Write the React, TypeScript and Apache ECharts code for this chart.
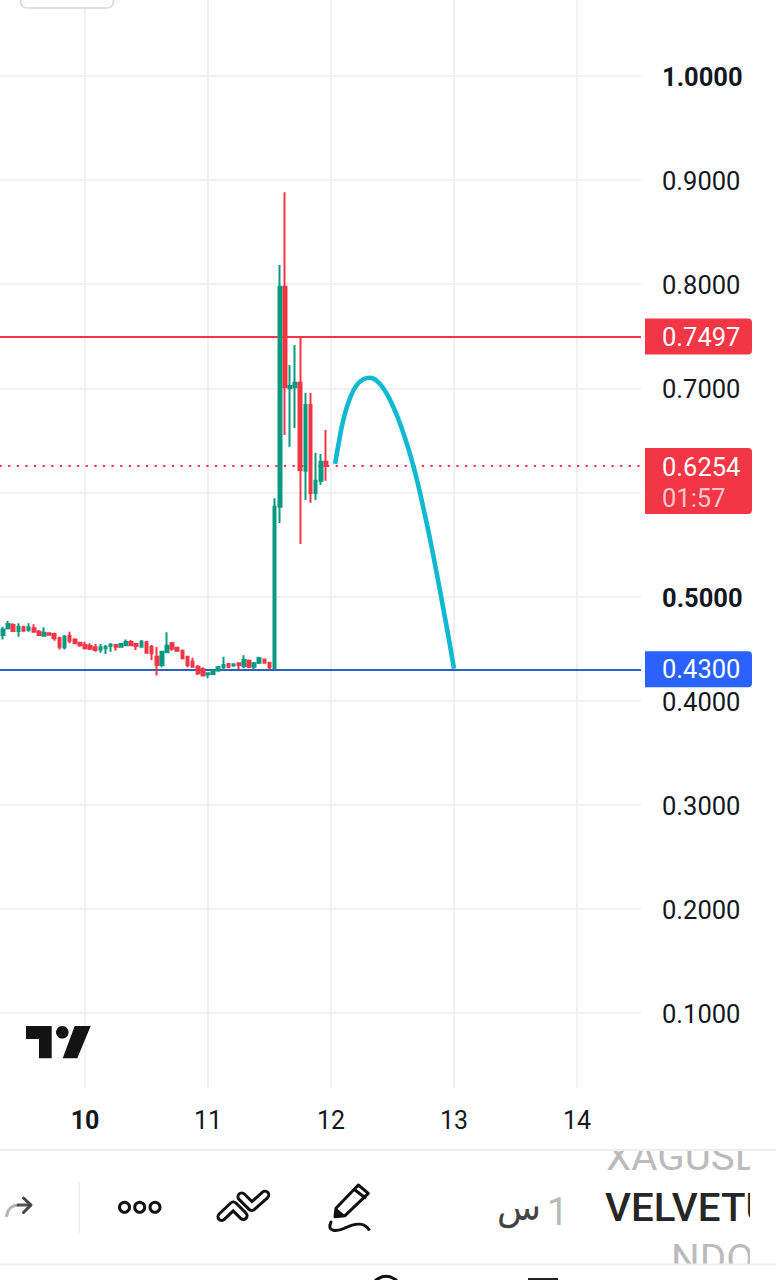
import React, { useEffect, useRef } from "react";
import * as echarts from "echarts";

const FIRST_HOUR = 8;
const opens = [
  0.463, 0.4694, 0.4726, 0.4668, 0.4704, 0.4678, 0.4694, 0.4662, 0.4624, 0.4646, 0.464, 0.4598, 0.4512, 0.462, 0.4588, 0.4556,
  0.4534, 0.4524, 0.4512, 0.4492, 0.4502, 0.4524, 0.4534, 0.4518, 0.4531, 0.4563, 0.4544, 0.4518, 0.456, 0.4518, 0.4422, 0.4342,
  0.4464, 0.455, 0.4508, 0.448, 0.4422, 0.4374, 0.4326, 0.43, 0.4252, 0.4256, 0.4288, 0.432, 0.4352, 0.4336, 0.4358, 0.4332,
  0.4384, 0.4326, 0.4364, 0.4396, 0.4364, 0.4313, 0.5863, 0.7976, 0.7, 0.701, 0.7054, 0.6208, 0.684, 0.5994, 0.6112, 0.6295,
];
const closes = [
  0.4684, 0.4736, 0.4668, 0.471, 0.4672, 0.4704, 0.4662, 0.463, 0.4652, 0.4633, 0.4598, 0.4518, 0.4614, 0.4576, 0.455, 0.4531,
  0.4502, 0.4499, 0.4486, 0.4512, 0.4518, 0.454, 0.4518, 0.4544, 0.4563, 0.4531, 0.4524, 0.4566, 0.446, 0.4454, 0.4342, 0.447,
  0.4528, 0.4499, 0.448, 0.4406, 0.4342, 0.4326, 0.4262, 0.424, 0.4262, 0.4288, 0.432, 0.4342, 0.4326, 0.4348, 0.4342, 0.439,
  0.4326, 0.4358, 0.4406, 0.4364, 0.432, 0.5863, 0.7976, 0.701, 0.7022, 0.7054, 0.6215, 0.684, 0.5994, 0.6112, 0.6295, 0.6254,
];
const lows = [
  0.4588, 0.4684, 0.4662, 0.4614, 0.4662, 0.4662, 0.4652, 0.462, 0.462, 0.4627, 0.4576, 0.4492, 0.4492, 0.455, 0.4544, 0.4518,
  0.4492, 0.4486, 0.447, 0.446, 0.4448, 0.447, 0.448, 0.4512, 0.4524, 0.4524, 0.4486, 0.4512, 0.4454, 0.439, 0.424, 0.432,
  0.446, 0.448, 0.447, 0.4396, 0.432, 0.4316, 0.4246, 0.4236, 0.4214, 0.4246, 0.4278, 0.4294, 0.431, 0.4326, 0.43, 0.431,
  0.431, 0.43, 0.4352, 0.4358, 0.43, 0.43, 0.5706, 0.6551, 0.6439, 0.6619, 0.5504, 0.5927, 0.5901, 0.5927, 0.6071, 0.6112,
];
const highs = [
  0.471, 0.4764, 0.4742, 0.4742, 0.472, 0.4742, 0.4733, 0.4678, 0.4704, 0.4652, 0.4652, 0.4614, 0.463, 0.4662, 0.4598, 0.4566,
  0.4566, 0.455, 0.4544, 0.4544, 0.4534, 0.455, 0.4544, 0.455, 0.4588, 0.4582, 0.4556, 0.4582, 0.4576, 0.4534, 0.4518, 0.447,
  0.4656, 0.4563, 0.4518, 0.4492, 0.4428, 0.4412, 0.4342, 0.432, 0.4268, 0.4294, 0.4332, 0.4422, 0.4358, 0.4358, 0.4364, 0.4435,
  0.4396, 0.4371, 0.4422, 0.4403, 0.4374, 0.5943, 0.8184, 0.8883, 0.7224, 0.7416, 0.7496, 0.6955, 0.6955, 0.6381, 0.6369, 0.6599,
];

const curveDays = [
  12.033, 12.06, 12.1, 12.154, 12.209, 12.263, 12.317, 12.371, 12.425, 12.48, 12.534, 12.588, 12.642, 12.697, 12.75, 12.805,
  12.859, 12.913, 12.967, 13.0,
];
const curvePrices = [
  0.6273, 0.6455, 0.6695, 0.6904, 0.7032, 0.7086, 0.7102, 0.7073, 0.7, 0.6888, 0.6744, 0.6571, 0.6369, 0.6129, 0.5855, 0.5552,
  0.5226, 0.4885, 0.4534, 0.4308,
];

const resistance = "0.7497";
const lastPrice = "0.6254";
const countdown = "01:57";
const support = "0.4300";
const boldPrices = ["1.0000", "0.5000"];
const coveredPrices = ["0.6000"];
const boldDays = ["10"];

const GREEN = "#089981";
const RED = "#F23645";
const BLUE = "#2962FF";
const GRID = "#F1F1F3";
const FONT = "Roboto";
const DAY_PX = 123;
const PRICE_PX = 1041;

function tagLabel(extra: object) {
  return {
    show: true,
    position: "end",
    distance: 4,
    align: "left",
    fontFamily: FONT,
    fontSize: 25.5,
    color: "#fff",
    padding: [4, 0, 0, 17],
    width: 90,
    height: 32,
    lineHeight: 32,
    borderRadius: [0, 4, 4, 0],
    ...extra,
  };
}

export default function App() {
  const ref = useRef<HTMLDivElement>(null);
  useEffect(() => {
    document.body.style.margin = "0";
    document.body.style.background = "#fff";
    const chart = echarts.init(ref.current!, null, { renderer: "svg" });
    const candleData = opens.map((o, i) => [9 + (FIRST_HOUR + i) / 24, o, closes[i], lows[i], highs[i]]);
    const maxDay = 9 + 679 / DAY_PX;

    const stroke = (color: string, lineWidth: number) => ({ fill: "none", stroke: color, lineWidth, lineCap: "round", lineJoin: "round" });
    const chevronA = [[221.7, 1216.7], [233.3, 1205.7], [243.3, 1215.7]];
    const chevronB = [[241.7, 1196.7], [251.7, 1206.7], [265, 1195]];

    const overlay: any[] = [
      { type: "rect", shape: { x: 20.7, y: -10, width: 92.6, height: 18, r: 6 }, style: { fill: "#fff", stroke: "#D8D8DA", lineWidth: 1.6 } },
      // TradingView mark
      { type: "polygon", shape: { points: [[26, 1026], [51.7, 1026], [51.7, 1058.3], [39, 1058.3], [39, 1039], [26, 1039]] }, style: { fill: "#131313" } },
      { type: "circle", shape: { cx: 62.3, cy: 1032.3, r: 6.3 }, style: { fill: "#131313" } },
      { type: "polygon", shape: { points: [[74.7, 1026], [90.7, 1026], [77.3, 1058.3], [62.7, 1058.3]] }, style: { fill: "#131313" } },
      // toolbar text (clipped by white masks below)
      { type: "text", x: 606, y: 1157, scaleX: 1.06, style: { text: "XAGUSD", font: "400 38px Roboto", fill: "#BBBBBD", verticalAlign: "middle" } },
      { type: "text", x: 605, y: 1208, scaleX: 1.06, style: { text: "VELVETUSDT", font: "500 38px Roboto", fill: "#262626", verticalAlign: "middle" } },
      { type: "text", x: 671, y: 1259, scaleX: 1.06, style: { text: "NDO", font: "400 38px Roboto", fill: "#BBBBBD", verticalAlign: "middle" } },
      { type: "rect", shape: { x: 750, y: 1130, width: 26, height: 150 }, style: { fill: "#fff" } },
      { type: "rect", shape: { x: 590, y: 1130, width: 186, height: 20 }, style: { fill: "#fff" } },
      { type: "rect", shape: { x: 590, y: 1264, width: 186, height: 16 }, style: { fill: "#fff" } },
      { type: "line", shape: { x1: 0, y1: 1150, x2: 776, y2: 1150 }, style: { stroke: "#EEEEEE", lineWidth: 2 } },
      { type: "line", shape: { x1: 0, y1: 1264.5, x2: 776, y2: 1264.5 }, style: { stroke: "#EEEEEE", lineWidth: 2 } },
      { type: "line", shape: { x1: 79.3, y1: 1182, x2: 79.3, y2: 1233 }, style: { stroke: "#EEEEEE", lineWidth: 1.5 } },
      { type: "text", style: { text: "1", x: 547, y: 1212, font: "400 38px Roboto", fill: "#B9B9BB", verticalAlign: "middle" } },
      { type: "text", style: { text: "س", x: 497, y: 1207, font: "400 36px 'DejaVu Sans'", fill: "#444444", verticalAlign: "middle" } },
      // redo arrow
      { type: "bezierCurve", shape: { x1: 6.5, y1: 1217, cpx1: 7, cpy1: 1209, cpx2: 12, cpy2: 1205, x2: 19, y2: 1205 }, style: { ...stroke("#B5B5B5", 3), lineCap: "butt" } },
      { type: "line", shape: { x1: 18, y1: 1205, x2: 30, y2: 1205 }, style: stroke("#555555", 3) },
      { type: "polyline", shape: { points: [[23.5, 1198], [31, 1205], [23.5, 1212.5]] }, style: stroke("#444444", 3) },
      // three dots
      { type: "circle", shape: { cx: 124.5, cy: 1207.3, r: 5 }, style: { fill: "#fff", stroke: "#111", lineWidth: 3 } },
      { type: "circle", shape: { cx: 139.7, cy: 1207.3, r: 5 }, style: { fill: "#fff", stroke: "#111", lineWidth: 3 } },
      { type: "circle", shape: { cx: 155, cy: 1207.3, r: 5 }, style: { fill: "#fff", stroke: "#111", lineWidth: 3 } },
      // double chevron
      { type: "polyline", shape: { points: chevronA }, style: stroke("#111", 10.5) },
      { type: "polyline", shape: { points: chevronA }, style: stroke("#fff", 4.5) },
      { type: "polyline", shape: { points: chevronB }, style: stroke("#111", 10.5) },
      { type: "polyline", shape: { points: chevronB }, style: stroke("#fff", 4.5) },
      // pencil
      { type: "polygon", shape: { points: [[336, 1208.3], [358.3, 1185], [368.3, 1193.3], [345, 1215.7], [335, 1216.7]] }, style: { fill: "#fff", stroke: "#111", lineWidth: 3, lineJoin: "round" } },
      { type: "polygon", shape: { points: [[336, 1208.3], [345, 1215.7], [335, 1216.7]] }, style: { fill: "#111", stroke: "#111", lineWidth: 1 } },
      { type: "line", shape: { x1: 355, y1: 1190, x2: 365, y2: 1197.7 }, style: stroke("#111", 3) },
      { type: "bezierCurve", shape: { x1: 331, y1: 1222, cpx1: 326, cpy1: 1232, cpx2: 337, cpy2: 1232, x2: 345, y2: 1228 }, style: stroke("#111", 3) },
      { type: "bezierCurve", shape: { x1: 345, y1: 1228, cpx1: 355, cpy1: 1223, cpx2: 365, cpy2: 1222, x2: 369.5, y2: 1230.5 }, style: { ...stroke("#111", 3), lineCap: "butt" } },
      // clipped icon tops at the very bottom
      { type: "circle", shape: { cx: 386, cy: 1292, r: 15.5 }, style: { fill: "#fff", stroke: "#111", lineWidth: 3 } },
      { type: "rect", shape: { x: 528, y: 1278, width: 30, height: 3 }, style: { fill: "#222" } },
    ];

    chart.setOption({
      animation: false,
      backgroundColor: "#fff",
      grid: [
        { left: -38, top: -28.1, width: 679, height: 1.1 * PRICE_PX, outerBoundsMode: "none" },
        { left: -38, top: 0, width: 679, height: 1088, outerBoundsMode: "none" },
      ],
      xAxis: [
        { type: "value", gridIndex: 0, min: 9, max: maxDay, show: false },
        {
          type: "value",
          gridIndex: 1,
          min: 9,
          max: maxDay,
          interval: 1,
          axisLine: { show: false },
          axisTick: { show: false },
          splitLine: { show: true, showMinLine: false, showMaxLine: false, lineStyle: { color: GRID, width: 2 } },
          axisLabel: {
            showMaxLabel: false,
            showMinLabel: false,
            margin: 20,
            fontFamily: FONT,
            fontSize: 25,
            color: "#131722",
            formatter: (v: number) => (boldDays.includes(String(v)) ? `{b|${v}}` : `${v}`),
            rich: { b: { fontFamily: FONT, fontSize: 25, fontWeight: 700, color: "#131722" } },
          },
        },
      ],
      yAxis: [
        {
          type: "value",
          gridIndex: 0,
          position: "right",
          min: 0,
          max: 1.1,
          interval: 0.1,
          axisLine: { show: false },
          axisTick: { show: false },
          splitLine: { show: true, showMinLine: false, showMaxLine: false, lineStyle: { color: GRID, width: 2 } },
          axisLabel: {
            showMinLabel: false,
            showMaxLabel: false,
            margin: 21,
            padding: [2, 0, 0, 0],
            fontFamily: FONT,
            fontSize: 25.5,
            color: "#131722",
            formatter: (v: number) => {
              const t = Number(v).toFixed(4);
              if (coveredPrices.includes(t)) return "";
              return boldPrices.includes(t) ? `{b|${t}}` : t;
            },
            rich: { b: { fontFamily: FONT, fontSize: 25.5, fontWeight: 700, color: "#131722" } },
          },
        },
        { type: "value", gridIndex: 1, show: false, min: 0, max: 1 },
      ],
      series: [
        {
          type: "line",
          name: "levels",
          xAxisIndex: 0,
          yAxisIndex: 0,
          data: [],
          silent: true,
          z: 1,
          markLine: {
            silent: true,
            symbol: "none",
            z: 1,
            precision: 4,
            animation: false,
            data: [
              {
                yAxis: Number(resistance),
                lineStyle: { color: RED, width: 2, type: "solid" },
                label: tagLabel({ formatter: resistance, backgroundColor: RED }),
              },
              {
                yAxis: Number(lastPrice),
                lineStyle: { color: RED, width: 2.2, type: [2.2, 6.42], dashOffset: -2.94 },
                label: tagLabel({
                  formatter: `{a|${lastPrice}}\n{b|${countdown}}`,
                  backgroundColor: RED,
                  height: 62,
                  lineHeight: 31,
                  offset: [0, 15],
                  rich: {
                    a: { fontFamily: FONT, fontSize: 25.5, color: "#fff", lineHeight: 31 },
                    b: { fontFamily: FONT, fontSize: 25.5, color: "rgba(255,255,255,0.72)", lineHeight: 31 },
                  },
                }),
              },
              {
                yAxis: Number(support),
                lineStyle: { color: "#2C62C0", width: 2, type: "solid" },
                label: tagLabel({ formatter: support, backgroundColor: BLUE }),
              },
            ],
          },
        },
        {
          type: "candlestick",
          name: "price",
          xAxisIndex: 0,
          yAxisIndex: 0,
          barWidth: 3.1,
          z: 3,
          data: candleData,
          itemStyle: { color: GREEN, color0: RED, borderColor: GREEN, borderColor0: RED, borderWidth: 2 },
        },
        {
          type: "line",
          name: "projection",
          xAxisIndex: 0,
          yAxisIndex: 0,
          z: 4,
          smooth: 0.5,
          showSymbol: false,
          symbol: "none",
          data: curveDays.map((d, i) => [d, curvePrices[i]]),
          lineStyle: { color: "#10B8D0", width: 4.6, cap: "butt" },
        },
      ],
      graphic: overlay.map((el) => ({ ...el, silent: true, z: 50 })),
    });
    return () => chart.dispose();
  }, []);
  return <div ref={ref} style={{ position: "absolute", left: 0, top: 0, width: 776, height: 1280 }} />;
}
